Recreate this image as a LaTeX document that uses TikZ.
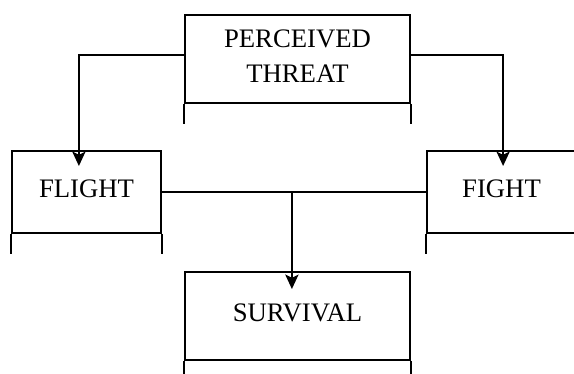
\documentclass[tikz,border=0pt]{standalone}
\usepackage{fontspec}
\setmainfont{Liberation Serif}
\usepackage{tikz}
\usetikzlibrary{arrows.meta,positioning,calc}

\begin{document}
\begin{tikzpicture}[
  box/.style={draw, line width=1.4pt, minimum height=2.2cm, text depth=0.15cm, align=center, font=\fontsize{19}{25}\selectfont},
  smallbox/.style={box, minimum width=3.725cm, minimum height=2.05cm},
  widebox/.style={box, minimum width=5.625cm},
  arrow/.style={-{Stealth[length=0.36cm, width=0.33cm, inset=0.08cm]}, line width=1.4pt}
]
  \useasboundingbox (0,0) rectangle (14.35,-9.325);
  \node[widebox] (threat)   at (7.4375,-1.475)   {PERCEIVED\\THREAT};
  \node[smallbox] (flight)  at (2.1625,-4.8)  {FLIGHT};
  \node[smallbox] (fight)   at (12.5375,-4.8) {FIGHT};
  \node[widebox] (survival) at (7.4375,-7.9)     {SURVIVAL};
  % legs under each box
  \foreach \n in {threat,flight,fight,survival}
    \draw[line width=1.4pt] (\n.south west) -- ++(0,-0.5) (\n.south east) -- ++(0,-0.5);
  \coordinate (join) at ([xshift=-0.14cm,yshift=-0.45cm]survival.north);
  \draw[arrow] ([yshift=0.1cm]threat.west) -| ([xshift=-0.19cm,yshift=-0.4cm]flight.north);
  \draw[arrow] ([yshift=0.1cm]threat.east) -| ([xshift=0.04cm,yshift=-0.4cm]fight.north);
  \draw[line width=1.4pt] (flight.east) -- (fight.west);
  \draw[arrow] (join |- flight.east) -- (join);
\end{tikzpicture}
\end{document}
